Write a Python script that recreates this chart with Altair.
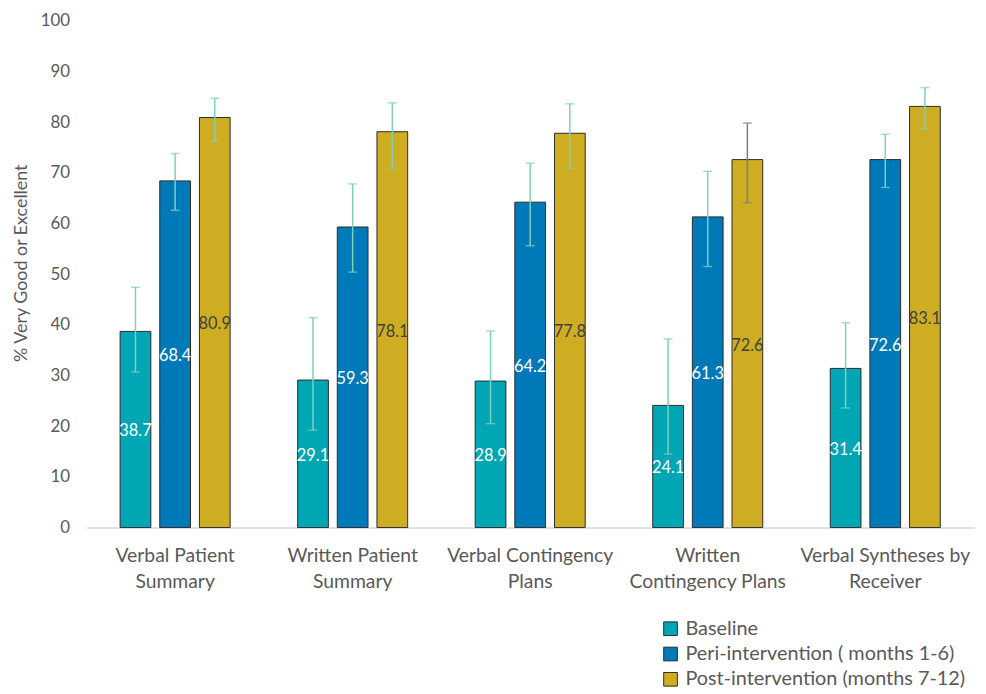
import altair as alt
import pandas as pd

categories = [
    "Verbal Patient|Summary",
    "Written Patient|Summary",
    "Verbal Contingency|Plans",
    "Written|Contingency Plans",
    "Verbal Syntheses by|Receiver",
]
series = ["Baseline", "Peri-intervention ( months 1-6)", "Post-intervention (months 7-12)"]
colors = ["#00A6B4", "#0079B9", "#CFAD23"]
label_colors = ["#FFFFFF", "#FFFFFF", "#404040"]

baseline = [38.7, 29.1, 28.9, 24.1, 31.4]
peri = [68.4, 59.3, 64.2, 61.3, 72.6]
post = [80.9, 78.1, 77.8, 72.6, 83.1]

baseline_lo = [30.7, 19.2, 20.5, 14.5, 23.6]
baseline_hi = [47.4, 41.4, 38.8, 37.2, 40.4]
peri_lo = [62.6, 50.4, 55.6, 51.5, 67.1]
peri_hi = [73.8, 67.8, 71.9, 70.3, 77.6]
post_lo = [76.3, 70.9, 70.9, 64.1, 78.7]
post_hi = [84.7, 83.8, 83.6, 79.8, 86.8]

err_colors = [
    ["#7FD0B9"] * 5,
    ["#7FD0B9"] * 5,
    ["#7FD0B9", "#7FD0B9", "#7FD0B9", "#7F7F7F", "#7FD0B9"],
]

rows = []
vals = [baseline, peri, post]
los = [baseline_lo, peri_lo, post_lo]
his = [baseline_hi, peri_hi, post_hi]
for si, s in enumerate(series):
    for ci, c in enumerate(categories):
        rows.append({
            "cat": c,
            "series": s,
            "value": vals[si][ci],
            "half": vals[si][ci] / 2,
            "lo": los[si][ci],
            "hi": his[si][ci],
            "ecol": err_colors[si][ci],
            "tcol": label_colors[si],
            "label": f"{vals[si][ci]:.1f}",
        })
df = pd.DataFrame(rows)

FONT = "Lato"
GREY = "#595959"

x_enc = alt.X(
    "cat:N",
    sort=categories,
    scale=alt.Scale(paddingInner=0.33, paddingOuter=0.165),
    axis=alt.Axis(
        title=None,
        labelExpr="split(datum.label, '|')",
        labelAngle=0,
        labelFont=FONT,
        labelFontSize=19.5,
        labelColor=GREY,
        labelPadding=19,
        labelLineHeight=26,
        labelLimit=300,
        ticks=False,
        domainColor="#D9D9D9",
        domainWidth=1.5,
    ),
)
xo_enc = alt.XOffset(
    "series:N",
    sort=series,
    scale=alt.Scale(paddingInner=0.225, paddingOuter=0.1125),
)

base = alt.Chart(df)

bars = base.mark_bar(stroke="#2B2B2B", strokeWidth=1, opacity=1, fillOpacity=1).encode(
    x=x_enc,
    xOffset=xo_enc,
    y=alt.Y(
        "value:Q",
        scale=alt.Scale(domain=[0, 100], nice=False),
        axis=alt.Axis(
            title="% Very Good or Excellent",
            titleFont=FONT,
            titleFontSize=18,
            titleFontWeight="normal",
            titleColor=GREY,
            titlePadding=10,
            titleY=244,
            values=list(range(0, 101, 10)),
            labelFont=FONT,
            labelFontSize=17,
            labelColor=GREY,
            labelPadding=17,
            ticks=False,
            domain=False,
            grid=False,
        ),
    ),
    color=alt.Color(
        "series:N",
        sort=series,
        scale=alt.Scale(domain=series, range=colors),
        legend=alt.Legend(
            title=None,
            orient="none",
            legendX=579,
            legendY=603,
            symbolType="square",
            symbolSize=190,
            symbolStrokeColor="#2B2B2B",
            symbolStrokeWidth=1,
            symbolOpacity=1,
            labelFont=FONT,
            labelFontSize=20,
            labelColor=GREY,
            labelOffset=5,
            labelLimit=0,
            rowPadding=5.5,
        ),
    ),
)

texts = base.mark_text(font=FONT, fontSize=16.5, dy=2).encode(
    x=x_enc,
    xOffset=xo_enc,
    y=alt.Y("half:Q"),
    text="label:N",
    color=alt.Color("tcol:N", scale=None),
)

rules = base.mark_rule(strokeWidth=1.5).encode(
    x=x_enc,
    xOffset=xo_enc,
    y=alt.Y("lo:Q"),
    y2="hi:Q",
    color=alt.Color("ecol:N", scale=None),
)

caps_lo = base.mark_tick(size=9, thickness=1.5).encode(
    x=x_enc,
    xOffset=xo_enc,
    y=alt.Y("lo:Q"),
    color=alt.Color("ecol:N", scale=None),
)
caps_hi = base.mark_tick(size=9, thickness=1.5).encode(
    x=x_enc,
    xOffset=xo_enc,
    y=alt.Y("hi:Q"),
    color=alt.Color("ecol:N", scale=None),
)

chart = (
    alt.layer(bars, texts, rules, caps_lo, caps_hi)
    .properties(
        width=895,
        height=511,
        background="white",
        autosize=alt.AutoSizeParams(type="none"),
        padding={"left": 79, "top": 10, "right": 4, "bottom": 168},
    )
    .configure_view(strokeWidth=0, stroke="transparent")
    .configure_legend(symbolOpacity=1, symbolFillColor="transparent")
)

chart.save("out.html", embed_options={"renderer": "svg", "actions": False})
